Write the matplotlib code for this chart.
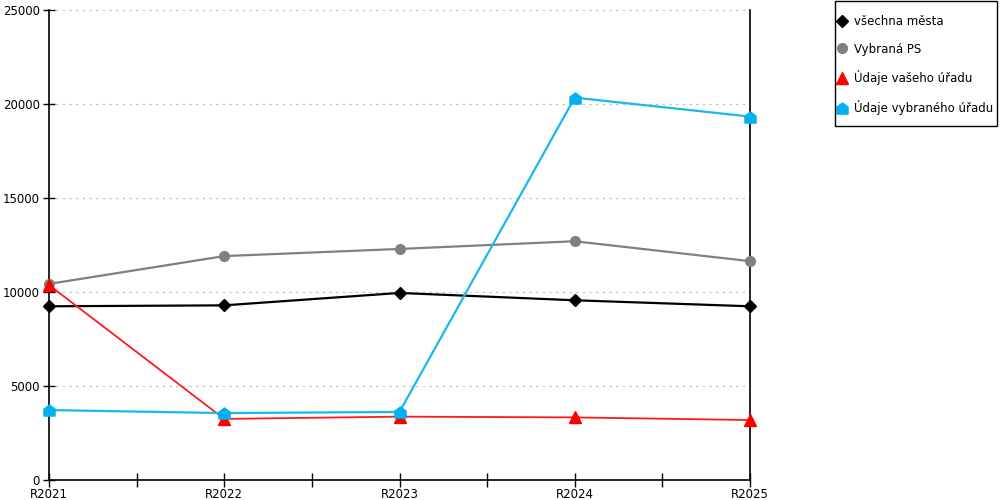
import matplotlib
matplotlib.use("Agg")
from matplotlib import pyplot as plt
from matplotlib.path import Path
from matplotlib.patches import Rectangle

roky = ["R2021", "R2022", "R2023", "R2024", "R2025"]

vsechna_mesta = [9240, 9290, 9950, 9560, 9240]
vybrana_ps = [10430, 11910, 12290, 12700, 11640]
vas_urad = [10370, 3250, 3370, 3330, 3190]
vybrany_urad = [3720, 3560, 3620, 20340, 19330]

# marker "domecek" pro vybrany urad
domecek = Path([(-1, -1), (1, -1), (1, 0.25), (0, 1), (-1, 0.25), (-1, -1)],
               [Path.MOVETO, Path.LINETO, Path.LINETO, Path.LINETO, Path.LINETO, Path.CLOSEPOLY])

fig = plt.figure(figsize=(10, 5), dpi=100)
ax = fig.add_axes([0.049, 0.04, 0.701, 0.94])

x = list(range(len(roky)))

ax.plot(x, vsechna_mesta, color='black', linewidth=1.6, marker='D', markersize=6,
        label='všechna města', zorder=3, clip_on=False)
ax.plot(x, vybrana_ps, color='#808080', linewidth=1.6, marker='o', markersize=7,
        label='Vybraná PS', zorder=3, clip_on=False)
ax.plot(x, vas_urad, color='#ff1a1a', linewidth=1.3, marker='^', markersize=9,
        markerfacecolor='red', markeredgecolor='red', label='Údaje vašeho úřadu', zorder=4,
        clip_on=False)
ax.plot(x, vybrany_urad, color='#1ab8ee', linewidth=1.6, marker=domecek, markersize=8,
        markerfacecolor='#00b0f0', markeredgecolor='#00b0f0', label='Údaje vybraného úřadu', zorder=5,
        clip_on=False)

ax.set_xlim(0, len(roky) - 1)
ax.set_ylim(0, 25000)
ax.set_xticks(x)
ax.set_xticklabels(roky)
ax.set_xticks([i + 0.5 for i in range(len(roky) - 1)], minor=True)
ax.set_yticks(range(0, 25001, 5000))

ax.yaxis.grid(True, linestyle=(0, (2, 4)), color='#bbbbbb', linewidth=0.8)
ax.set_axisbelow(True)

ax.spines['top'].set_visible(False)
for s in ['left', 'bottom', 'right']:
    ax.spines[s].set_color('black')
    ax.spines[s].set_linewidth(1.2)

ax.tick_params(axis='x', which='both', direction='inout', length=10, width=1,
               labelsize=8.5, pad=1)
ax.tick_params(axis='y', which='major', direction='inout', length=9, width=1,
               labelsize=8.5, pad=2)

# ramecek legendy zvlast, aby sedel na pixel
fig.patches.append(Rectangle((0.835, 0.748), 0.162, 0.251, transform=fig.transFigure,
                             fill=False, edgecolor='black', linewidth=1))

leg = ax.legend(loc='upper left', bbox_to_anchor=(0.824, 1.0), bbox_transform=fig.transFigure,
                frameon=False, fontsize=8.5,
                handlelength=0.6, handletextpad=0.7, labelspacing=1.25, borderpad=1.25,
                borderaxespad=0)
for h in leg.legend_handles:
    h.set_linestyle('None')
    h.set_clip_on(False)

fig.savefig("out.png", dpi=100)
